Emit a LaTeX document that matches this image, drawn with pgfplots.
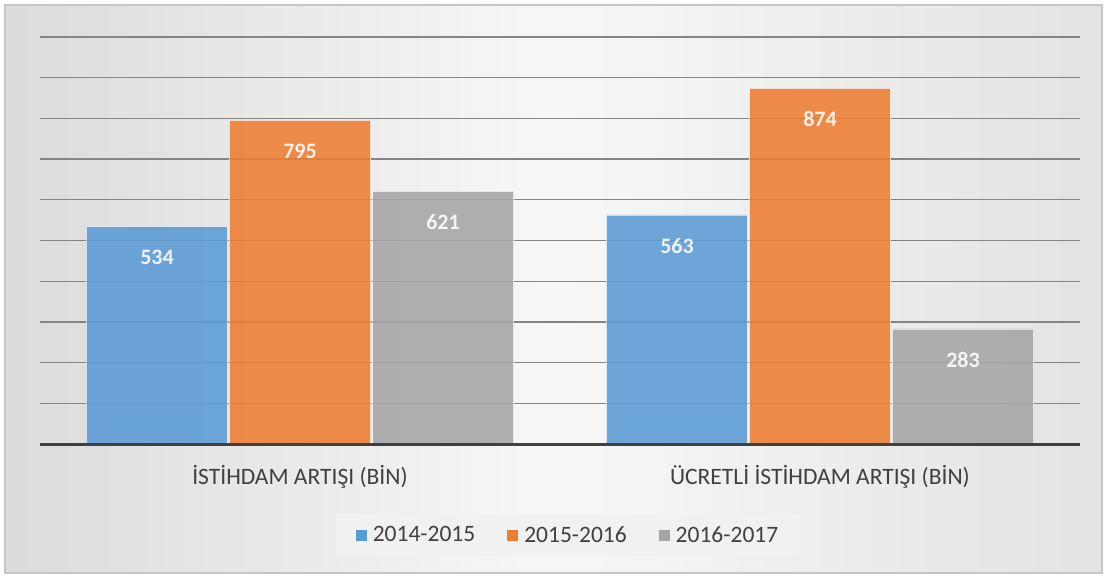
\documentclass[border=0pt]{standalone}
\usepackage{pgfplots}
\pgfplotsset{compat=1.18}
\usepackage{fontspec}
\setmainfont{Carlito}
\definecolor{cblue}{HTML}{5B9BD5}
\definecolor{corange}{HTML}{ED7D31}
\definecolor{cgray}{HTML}{A5A5A5}
\definecolor{ctext}{HTML}{404040}
\begin{document}
\begin{tikzpicture}[x=1pt,y=1pt]
\useasboundingbox (0,0) rectangle (1107,579);
\shade[left color=gray!28, right color=gray!22, middle color=gray!6, draw=gray!45, line width=1.2pt] (5,6) rectangle (1102,574);
\begin{axis}[
  at={(40pt,135pt)}, anchor=south west,
  scale only axis, width=1040pt, height=407pt,
  xmin=-0.5, xmax=1.5, ymin=0, ymax=1000,
  axis line style={draw=none},
  major tick length=0pt,
  ybar=2pt, bar width=141pt,
  ytick={100,200,...,1000},
  ymajorgrids, grid style={line width=1.3pt, color=black!48},
  xtick=\empty, yticklabels={},
  clip=false,
  /pgf/number format/assume math mode=true,
  nodes near coords,
  every node near coord/.append style={anchor=center, yshift=-31pt, text=white, font=\fontsize{22}{24}\selectfont\bfseries},
  legend style={at={(0.5077,-0.2236)}, anchor=center, legend columns=3, fill=gray!11, draw=none,
    font=\fontsize{23.5}{26}\selectfont, text=ctext, inner xsep=20pt, inner ysep=10pt,
    /tikz/every even column/.append style={column sep=30pt}},
  legend image code/.code={\fill[#1, draw=none, fill opacity=1] (0pt,-5.5pt) rectangle (11pt,5.5pt); \path[draw=none, fill=none] (0pt,0pt) -- (15pt,0pt);},
]
\addplot[fill=cblue, fill opacity=0.88, draw=white, draw opacity=0.6] coordinates {(0,534) (1,563)};
\addplot[fill=corange, fill opacity=0.88, draw=white, draw opacity=0.6] coordinates {(0,795) (1,874)};
\addplot[fill=cgray, fill opacity=0.88, draw=white, draw opacity=0.6] coordinates {(0,621) (1,283)};
\legend{2014-2015,2015-2016,2016-2017}
\draw[line width=3pt, color=ctext] (rel axis cs:0,0) -- (rel axis cs:1,0);
\node[text=ctext, font=\fontsize{23.5}{26}\selectfont] at (axis cs:0,-80) {İSTİHDAM ARTIŞI (BİN)};
\node[text=ctext, font=\fontsize{23.5}{26}\selectfont] at (axis cs:1,-80) {ÜCRETLİ İSTİHDAM ARTIŞI (BİN)};
\end{axis}
\end{tikzpicture}
\end{document}
